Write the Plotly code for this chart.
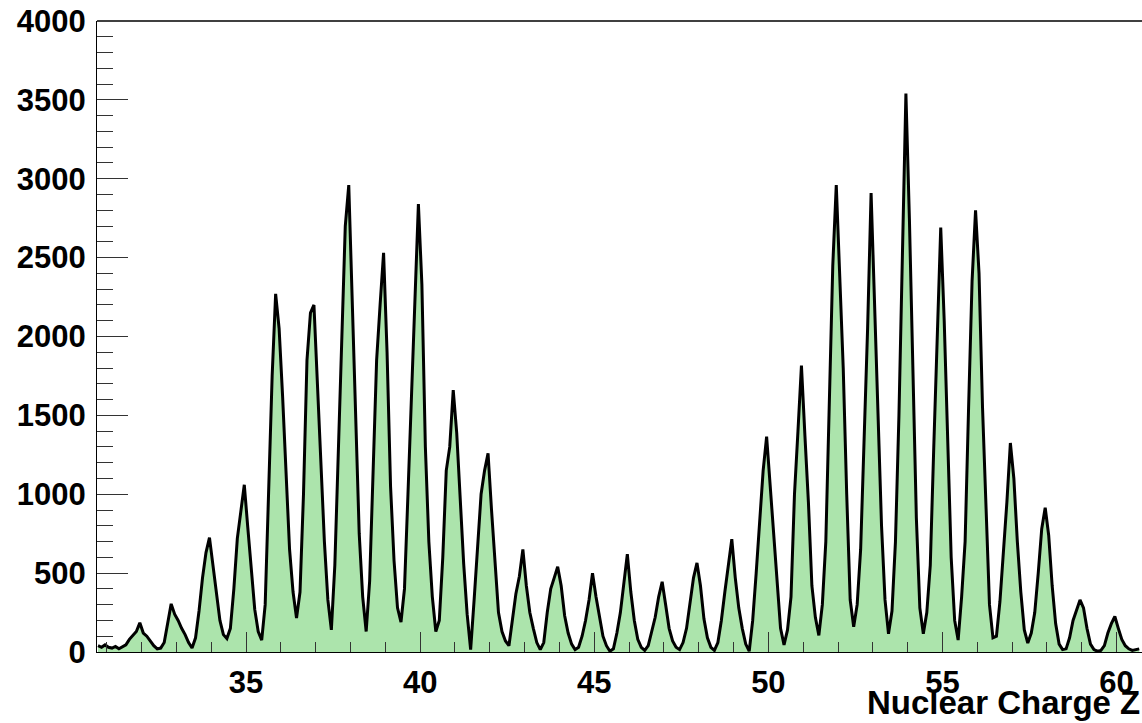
import numpy as np
import plotly.graph_objects as go

# ---- data ----
z_first = 30.75          # centre of first sampled bin
bin_width = 0.1          # Z units between samples
counts = [
    40, 30, 45, 30, 25, 35, 20, 30,                          # 30.75 .. 31.45
    45, 80, 105, 130, 185, 120, 100, 70, 40, 20,             # Z=32
    25, 60, 180, 305, 240, 200, 150, 110, 60, 25,            # Z=33
    90, 260, 470, 630, 725, 540, 350, 200, 110, 85,          # Z=34
    150, 400, 720, 910, 1060, 790, 500, 270, 130, 75,        # Z=35
    300, 1050, 1750, 2270, 2050, 1620, 1100, 650, 380, 215,  # Z=36
    380, 1000, 1850, 2150, 2200, 1700, 1300, 700, 330, 140,  # Z=37
    550, 1300, 2100, 2700, 2960, 2250, 1450, 750, 350, 130,  # Z=38
    450, 1150, 1850, 2200, 2530, 1900, 1050, 580, 280, 190,  # Z=39
    400, 1000, 1640, 2250, 2840, 2330, 1300, 700, 350, 130,  # Z=40
    200, 600, 1150, 1300, 1660, 1390, 980, 560, 240, 15,     # Z=41
    330, 650, 1000, 1150, 1260, 900, 600, 250, 130, 70,      # Z=42
    40, 200, 370, 480, 650, 420, 250, 150, 60, 15,           # Z=43
    60, 250, 400, 470, 540, 420, 230, 120, 50, 15,           # Z=44
    30, 100, 200, 330, 500, 350, 220, 100, 40, 5,            # Z=45
    20, 120, 250, 420, 620, 380, 200, 80, 30, 10,            # Z=46
    40, 130, 220, 350, 445, 300, 150, 70, 30, 15,            # Z=47
    60, 150, 300, 470, 565, 420, 210, 90, 30, 10,            # Z=48
    60, 200, 380, 560, 715, 470, 280, 150, 50, 5,            # Z=49
    200, 500, 820, 1150, 1365, 1050, 750, 400, 150, 45,      # Z=50
    140, 350, 1000, 1400, 1815, 1370, 950, 420, 220, 105,    # Z=51
    300, 700, 1500, 2450, 2960, 2400, 1800, 1000, 330, 160,  # Z=52
    300, 650, 1300, 2050, 2910, 2250, 1500, 800, 330, 115,   # Z=53
    260, 700, 1500, 2500, 3540, 2750, 1750, 850, 280, 115,   # Z=54
    250, 550, 1300, 2000, 2690, 2100, 1300, 600, 200, 76,    # Z=55
    350, 700, 1550, 2350, 2800, 2400, 1550, 850, 300, 90,    # Z=56
    100, 320, 620, 950, 1325, 1100, 700, 380, 140, 57,       # Z=57
    120, 250, 500, 780, 915, 740, 420, 180, 50, 15,          # Z=58
    20, 90, 200, 270, 330, 280, 150, 50, 15, 5,              # Z=59
    10, 40, 120, 180, 225, 150, 80, 40, 20, 10,              # Z=60
    15, 20,                                                  # 60.55 .. 60.65
]
x_tick_vals = [35, 40, 45, 50, 55, 60]
x_tick_text = ["35", "40", "45", "50", "55", "60"]
y_tick_vals = [0, 500, 1000, 1500, 2000, 2500, 3000, 3500, 4000]
y_tick_text = ["0", "500", "1000", "1500", "2000", "2500", "3000", "3500", "4000"]
x_title = "Nuclear Charge Z"

z = z_first + bin_width * np.arange(len(counts))

FONT = "Liberation Sans, Arial, sans-serif"

fig = go.Figure()
fig.add_trace(go.Scatter(
    x=z, y=counts, mode="lines",
    line=dict(color="black", width=3),
    fill="tozeroy", fillcolor="rgb(172,228,172)",
    hoverinfo="skip", showlegend=False,
))

fig.update_layout(
    width=1142, height=723,
    margin=dict(l=97, r=0, t=21, b=71, autoexpand=False),
    paper_bgcolor="white", plot_bgcolor="white",
    font=dict(family=FONT, color="black"),
    xaxis=dict(
        range=[30.72, 60.73], showgrid=False, zeroline=False,
        showline=True, linecolor="black", linewidth=1,
        tickmode="array", tickvals=x_tick_vals, ticktext=x_tick_text,
        ticks="inside", ticklen=20, tickwidth=1, tickcolor="#333",
        tickfont=dict(family=FONT, size=31, weight="bold", color="black"),
        ticklabelstandoff=3,
        minor=dict(dtick=1, tick0=30, ticks="inside", ticklen=10, tickwidth=1, tickcolor="#333"),
    ),
    yaxis=dict(
        range=[0, 4000], showgrid=False, zeroline=False,
        showline=True, linecolor="black", linewidth=1,
        tickmode="array", tickvals=y_tick_vals, ticktext=y_tick_text,
        ticks="inside", ticklen=31, tickwidth=1, tickcolor="#333",
        tickfont=dict(family=FONT, size=31, weight="bold", color="black"),
        ticklabelstandoff=4,
        minor=dict(dtick=100, tick0=0, ticks="inside", ticklen=16, tickwidth=1, tickcolor="#333"),
    ),
    shapes=[dict(type="line", xref="paper", yref="paper", x0=0, x1=1, y0=1, y1=1,
                 line=dict(color="black", width=1.5))],
    annotations=[dict(text=x_title, xref="paper", yref="paper", x=1.0, y=-0.1125,
                      xanchor="right", yanchor="bottom", showarrow=False,
                      font=dict(family=FONT, size=33, weight="bold", color="black"))],
)

fig.write_html("out.html")
